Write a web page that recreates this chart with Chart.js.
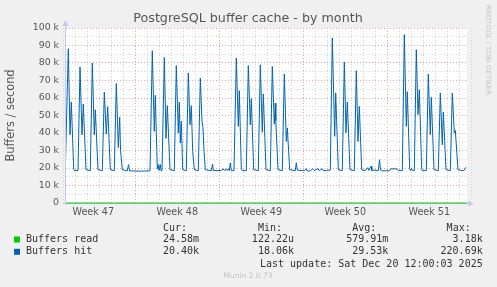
<!DOCTYPE html>
<html>
<head>
<meta charset="utf-8">
<title>PostgreSQL buffer cache - by month</title>
<script src="https://cdn.jsdelivr.net/npm/chart.js@4.4.1/dist/chart.umd.min.js"></script>
<style>
  html, body { margin: 0; padding: 0; background: #f0f0f0; }
  canvas { display: block; }
</style>
</head>
<body>
<canvas id="chart" width="497" height="287"></canvas>
<script>
// hours are counted from Monday Nov 24 00:00 (start of week 48)
const weekLabels = ['Week 47', 'Week 48', 'Week 49', 'Week 50', 'Week 51'];
const weekStartHours = [-168, 0, 168, 336, 504];

// Buffers hit, in thousands per second
const hitHours = [
    -140, -134, -130.6, -128, -123.2, -122,
    -114.6, -110.6, -106.6, -104, -98.6,
    -90, -86, -82, -80, -74.6,
    -66, -62, -58, -55.2, -50,
    -42, -38, -34, -31.2, -29.5, -26,
    -16, -13.6, -11.5,
    12,
    29.4, 34, 38, 40, 44, 46, 47.4, 50, 51.4,
    53.4, 58, 61.4, 64, 69.4,
    78, 82, 86, 88, 90, 92, 94.8,
    102, 106, 109.4, 112, 114.8, 118,
    126, 130, 133.4, 135.4, 137.4, 140,
    152, 154.5, 156,
    172, 176, 178, 182, 184, 186, 188, 190, 192,
    197.4, 202, 206, 208, 212, 214,
    222, 226, 230, 232, 236.8,
    246, 250, 254, 256, 261.4,
    270, 274, 278, 280, 281, 285.4,
    294, 298, 302, 304, 308.8,
    320, 322, 324,
    338, 341.4, 344, 350, 354.8, 358,
    365.4, 368, 373.4, 376, 382,
    390, 394, 398.8, 400.8, 406,
    414, 418, 421.4, 424, 429.4,
    438, 442, 445.4, 448, 452.8,
    460, 465, 467, 471.4, 473, 476,
    486, 488.4, 490.5, 494,
    508, 511, 524, 526,
    534, 538, 542, 544, 548.8, 550.5, 552.5, 554.5,
    558, 562, 565.4, 568, 572.8, 574,
    582, 586, 590, 592, 597.4,
    606, 610, 614, 616, 621.4,
    630, 634, 638, 640, 645.4,
    654, 657.4, 661
];
const hitValues = [
    19, 88.2, 39, 57.7, 19.6, 18.5,
    18.5, 77.7, 39, 56.6, 19,
    18.5, 80, 39, 53.3, 19,
    18.5, 63.4, 39.4, 55, 19,
    18.5, 68.3, 31.7, 49, 30, 19,
    18.4, 21.9, 18.4,
    18.2,
    18.4, 87, 40.9, 61.5, 19.5, 22, 18.5, 22, 18.5,
    18.5, 83.2, 37, 55.6, 19,
    18.5, 78.5, 40, 57.6, 34.3, 46.7, 19,
    18.5, 74.3, 44.7, 55.6, 29.5, 19,
    18.5, 71.4, 46.6, 43, 29.5, 19,
    18.5, 22.3, 18.5,
    18.6, 19.5, 18.5, 19.4, 18.6, 19.5, 18.6, 22.9, 18.5,
    18.5, 82.9, 43.8, 64.2, 19.6, 18.5,
    18.5, 78.5, 44.7, 59.6, 19,
    18.5, 79, 40.5, 62.3, 19,
    18.5, 78, 45.1, 57.1, 47, 19,
    18.5, 73.7, 35.2, 42.9, 19,
    18.5, 23, 18.8,
    18.4, 19.6, 18.3, 18.4, 19.6, 18.5,
    19.6, 18.5, 19.6, 18.5, 18.6,
    18.8, 94.3, 38.1, 62.9, 19,
    18.5, 80.6, 40.2, 57.6, 19,
    18.5, 75.6, 35.2, 55.2, 19,
    18.5, 20.2, 18.6, 21, 18.5, 18.8,
    18.5, 24.7, 18.8, 18.4,
    18.4, 19.5, 19.5, 18.5,
    18.5, 96.2, 43.8, 63.6, 19.5, 18.5, 19.8, 18.5,
    18.5, 87.6, 50.5, 64.7, 19.6, 18.5,
    18.5, 73.7, 39, 60.4, 19,
    18.5, 62.9, 33.3, 52, 19,
    18.5, 62.9, 40, 41.5, 19,
    18.5, 18.6, 20.4
];

// Buffers read, in thousands per second (flat on zero at this scale)
const readHours = [-138.6, 663.4];
const readValues = [0, 0];

const seriesNames = ['Buffers read', 'Buffers hit'];
const seriesColors = ['#00cc00', '#0066b3'];
const curValues = ['24.58m', '20.40k'];
const minValues = ['122.22u', '18.06k'];
const avgValues = ['579.91m', '29.53k'];
const maxValues = ['3.18k', '220.69k'];
const lastUpdate = 'Last update: Sat Dec 20 12:00:03 2025';

const majorGrid = '#e6a4a4';
const minorGrid = '#d4d4d4';
const axisColor = '#c8c8f0';

// ticks: one per day for the grid, one in the middle of each week for the label
const xTicks = [];
for (let h = -144; h <= 672; h += 24) xTicks.push(h);
weekStartHours.forEach(w => xTicks.push(w + 84));
xTicks.sort((a, b) => a - b);

const munin = {
    id: 'munin',
    beforeDraw(chart) {
        const {ctx, chartArea: a} = chart;
        ctx.save();
        ctx.fillStyle = '#ffffff';
        ctx.fillRect(a.left, a.top, a.right - a.left, a.bottom - a.top);
        ctx.restore();
    },
    beforeDatasetsDraw(chart) {
        const {ctx, chartArea: a} = chart;
        ctx.save();
        ctx.strokeStyle = axisColor;
        ctx.fillStyle = axisColor;
        ctx.lineWidth = 1;
        ctx.beginPath();
        ctx.moveTo(a.left - 0.5, a.bottom + 2);
        ctx.lineTo(a.left - 0.5, a.top - 4);
        ctx.moveTo(a.left - 3, a.bottom + 0.5);
        ctx.lineTo(a.right + 3, a.bottom + 0.5);
        ctx.stroke();
        // arrows
        ctx.beginPath();
        ctx.moveTo(a.left - 3.5, a.top - 2);
        ctx.lineTo(a.left + 2.5, a.top - 2);
        ctx.lineTo(a.left - 0.5, a.top - 8);
        ctx.closePath();
        ctx.fill();
        ctx.beginPath();
        ctx.moveTo(a.right + 1, a.bottom - 2.5);
        ctx.lineTo(a.right + 1, a.bottom + 3.5);
        ctx.lineTo(a.right + 7, a.bottom + 0.5);
        ctx.closePath();
        ctx.fill();
        ctx.restore();
    },
    afterDraw(chart) {
        const ctx = chart.ctx;
        ctx.save();
        // title
        ctx.fillStyle = '#555555';
        ctx.font = '12.7px "DejaVu Sans"';
        ctx.textAlign = 'center';
        ctx.textBaseline = 'middle';
        ctx.fillText('PostgreSQL buffer cache - by month', 248, 19);

        // side credit
        ctx.save();
        ctx.translate(488, 5);
        ctx.rotate(Math.PI / 2);
        ctx.fillStyle = '#c4c4c4';
        ctx.font = '7px "DejaVu Sans"';
        ctx.textAlign = 'left';
        ctx.fillText('RRDTOOL / TOBI OETIKER', 0, 0);
        ctx.restore();

        // legend table
        ctx.font = '10px "DejaVu Sans Mono"';
        ctx.fillStyle = '#333333';
        ctx.textAlign = 'right';
        const cols = [199, 294, 388.3, 482.7];
        ['Cur:', 'Min:', 'Avg:', 'Max:'].forEach((t, i) => ctx.fillText(t, cols[i] - 12, 228));
        seriesNames.forEach((name, i) => {
            const y = 239.5 + i * 12.3;
            ctx.fillStyle = seriesColors[i];
            ctx.fillRect(14, y - 3, 6, 6);
            ctx.fillStyle = '#333333';
            ctx.textAlign = 'left';
            ctx.fillText(name, 26, y);
            ctx.textAlign = 'right';
            [curValues[i], minValues[i], avgValues[i], maxValues[i]].forEach((v, j) => ctx.fillText(v, cols[j], y));
        });
        ctx.fillText(lastUpdate, 482.7, 264);

        ctx.fillStyle = '#c0c0c0';
        ctx.font = '7.5px "DejaVu Sans"';
        ctx.textAlign = 'center';
        ctx.fillText('Munin 2.0.73', 248, 276);
        ctx.restore();
    }
};

const ctx = document.getElementById('chart').getContext('2d');
new Chart(ctx, {
    type: 'line',
    data: {
        datasets: [
            {
                label: seriesNames[0],
                data: readHours.map((h, i) => ({x: h, y: readValues[i]})),
                borderColor: seriesColors[0],
                borderWidth: 1,
                pointRadius: 0,
                clip: 2
            },
            {
                label: seriesNames[1],
                data: hitHours.map((h, i) => ({x: h, y: hitValues[i]})),
                borderColor: seriesColors[1],
                borderWidth: 1,
                pointRadius: 0,
                tension: 0
            }
        ]
    },
    options: {
        responsive: false,
        animation: false,
        layout: { padding: { top: 28, left: 0, right: 30, bottom: 0 } },
        plugins: {
            legend: { display: false },
            tooltip: { enabled: false }
        },
        scales: {
            x: {
                type: 'linear',
                min: -138.6,
                max: 663.4,
                afterFit: s => { s.height = 84; },
                afterBuildTicks: s => { s.ticks = xTicks.map(v => ({value: v})); },
                grid: {
                    drawTicks: false,
                    color: c => {
                        const v = c.tick ? c.tick.value : 0;
                        if (weekStartHours.includes(v)) return majorGrid;
                        if (v % 24 === 0) return minorGrid;
                        return 'rgba(0,0,0,0)';
                    }
                },
                border: { display: false, dash: [1, 2] },
                ticks: {
                    autoSkip: false,
                    maxRotation: 0,
                    padding: 4,
                    color: '#555555',
                    font: { family: 'DejaVu Sans', size: 9.6 },
                    callback: v => {
                        const i = weekStartHours.indexOf(v - 84);
                        return i >= 0 ? weekLabels[i] : '';
                    }
                }
            },
            y: {
                min: 0,
                max: 100,
                afterFit: s => { s.width = 66; },
                grid: {
                    drawTicks: false,
                    color: c => (c.tick && c.tick.value % 10 === 0) ? majorGrid : minorGrid
                },
                border: { display: false, dash: [1, 2] },
                title: {
                    display: true,
                    text: 'Buffers / second',
                    color: '#555555',
                    font: { family: 'DejaVu Sans', size: 11.4 },
                    padding: { top: 4, bottom: 0 }
                },
                ticks: {
                    stepSize: 5,
                    autoSkip: false,
                    padding: 7,
                    color: '#555555',
                    font: { family: 'DejaVu Sans', size: 9.4 },
                    callback: v => v % 10 !== 0 ? '' : (v === 0 ? '0' : v + ' k')
                }
            }
        }
    },
    plugins: [munin]
});
</script>
</body>
</html>
